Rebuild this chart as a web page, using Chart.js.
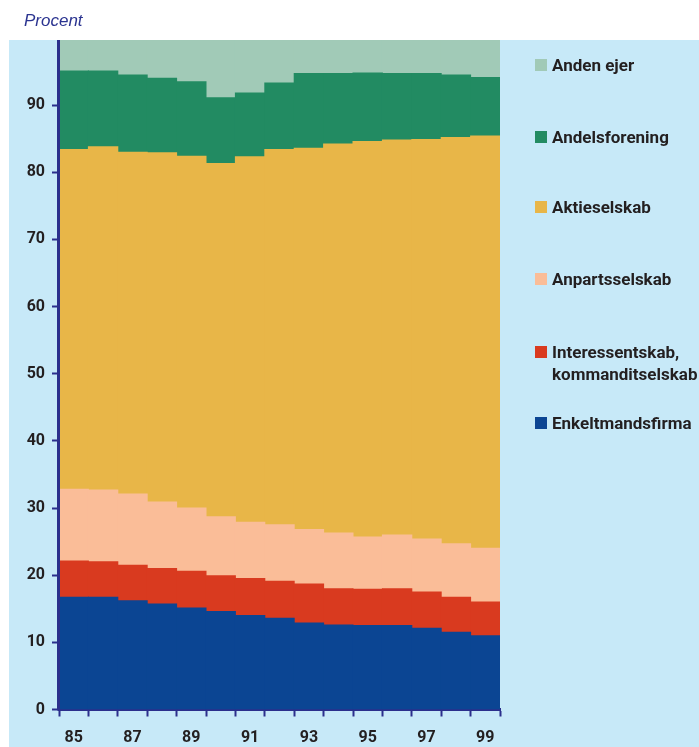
<!DOCTYPE html>
<html>
<head>
<meta charset="utf-8">
<script src="https://cdn.jsdelivr.net/npm/chart.js@4/dist/chart.umd.min.js"></script>
<style>
  html, body { margin: 0; padding: 0; background: #ffffff; }
  #wrap { position: relative; width: 699px; height: 747px; overflow: hidden; }
  #chart { position: absolute; left: 0; top: 0; }
  #unit {
    position: absolute; left: 24px; top: 11px;
    font-family: "Liberation Sans", Arial, sans-serif; font-style: italic;
    font-size: 17px; color: #2b3490; white-space: nowrap;
  }
  .lg { position: absolute; left: 535px; font-family: Roboto, "Noto Sans", sans-serif;
        font-weight: bold; font-size: 17px; line-height: 22px; color: #231f20; white-space: nowrap; }
  .lg .sw { position: absolute; left: 0; width: 12px; height: 12px; }
  .lg .tx { position: absolute; left: 17px; }
</style>
</head>
<body>
<div id="wrap">
  <canvas id="chart" width="699" height="747"></canvas>
  <div id="unit">Procent</div>
  <div id="legend"></div>
</div>
<script>
// Years (category axis) — only odd years get a printed label
const years = ['85','86','87','88','89','90','91','92','93','94','95','96','97','98','99'];

// Ownership shares in percent, per year
const enkeltmandsfirma = [16.7, 16.7, 16.2, 15.7, 15.1, 14.6, 14.0, 13.6, 12.9, 12.6, 12.5, 12.5, 12.1, 11.5, 11.0];
const interessentskab  = [5.4, 5.3, 5.3, 5.3, 5.5, 5.3, 5.5, 5.5, 5.8, 5.4, 5.4, 5.5, 5.4, 5.2, 5.0];
const anpartsselskab   = [10.7, 10.7, 10.6, 9.9, 9.4, 8.8, 8.4, 8.4, 8.1, 8.3, 7.8, 8.0, 7.9, 8.0, 8.0];
const aktieselskab     = [50.6, 51.1, 50.9, 52.0, 52.4, 52.6, 54.4, 55.9, 56.8, 57.9, 58.9, 58.8, 59.5, 60.5, 61.4];
const andelsforening   = [11.7, 11.3, 11.5, 11.1, 11.1, 9.8, 9.5, 9.9, 11.1, 10.5, 10.2, 9.9, 9.8, 9.3, 8.7];
const andenEjer        = [4.9, 4.9, 5.5, 6.0, 6.5, 8.9, 8.2, 6.7, 5.3, 5.3, 5.2, 5.3, 5.3, 5.5, 5.9];

// Value-axis ticks
const yTicks = [0, 10, 20, 30, 40, 50, 60, 70, 80, 90];

const INK = '#231f20';
const AXIS = '#2b2f8c';
const PANEL = '#c7e9f8';
const TICK_FONT = { family: 'Roboto, "Noto Sans", sans-serif', weight: 'bold', size: 16 };

// Stack order: bottom first
const series = [
  { label: ['Enkeltmandsfirma'], data: enkeltmandsfirma, color: '#0b4593' },
  { label: ['Interessentskab,', 'kommanditselskab'], data: interessentskab, color: '#d93a1f' },
  { label: ['Anpartsselskab'], data: anpartsselskab, color: '#fabd98' },
  { label: ['Aktieselskab'], data: aktieselskab, color: '#e8b648' },
  { label: ['Andelsforening'], data: andelsforening, color: '#228b62' },
  { label: ['Anden ejer'], data: andenEjer, color: '#a1cab7' }
];

// Light-blue panel behind the plot, white strip across the top,
// and a heavier value-axis line on top of the bars
const panelPlugin = {
  id: 'panel',
  beforeDraw(chart) {
    const ctx = chart.ctx;
    ctx.save();
    ctx.fillStyle = '#ffffff';
    ctx.fillRect(0, 0, chart.width, chart.height);
    ctx.fillStyle = PANEL;
    ctx.fillRect(9, 40, chart.width - 9, chart.height - 40);
    ctx.restore();
  },
  afterDraw(chart) {
    const ctx = chart.ctx;
    const a = chart.chartArea;
    ctx.save();
    ctx.fillStyle = '#ffffff';
    ctx.fillRect(0, 0, chart.width, 40);
    ctx.strokeStyle = AXIS;
    ctx.lineWidth = 3;
    ctx.beginPath();
    ctx.moveTo(a.left - 0.5, 40);
    ctx.lineTo(a.left - 0.5, a.bottom + 1);
    ctx.stroke();
    ctx.restore();
  }
};

const chart = new Chart(document.getElementById('chart'), {
  type: 'bar',
  data: {
    labels: years,
    datasets: series.map(s => ({
      label: s.label.join(' '),
      data: s.data,
      backgroundColor: s.color,
      borderWidth: 0,
      inflateAmount: 0.5,
      barPercentage: 1,
      categoryPercentage: 1
    }))
  },
  options: {
    responsive: false,
    animation: false,
    devicePixelRatio: 1,
    layout: { padding: { left: 0, top: 38, right: 199, bottom: 0 } },
    plugins: { legend: { display: false }, tooltip: { enabled: false }, title: { display: false } },
    scales: {
      x: {
        stacked: true,
        offset: true,
        z: 1,
        afterFit(scale) { scale.height = 37.5; },
        grid: {
          offset: true, drawOnChartArea: false, drawTicks: true,
          tickLength: 7, tickWidth: 2, tickColor: AXIS
        },
        border: { display: true, color: AXIS, width: 3 },
        ticks: {
          autoSkip: false, maxRotation: 0, padding: 12,
          color: INK, font: TICK_FONT,
          callback(v, i) { return i % 2 === 0 ? years[i] : ''; }
        }
      },
      y: {
        stacked: true,
        min: 0, max: 100,
        z: 1,
        afterFit(scale) { scale.width = 59; },
        afterBuildTicks(scale) { scale.ticks = yTicks.map(v => ({ value: v })); },
        grid: {
          drawOnChartArea: false, drawTicks: true,
          tickLength: 7, tickWidth: 2, tickColor: AXIS
        },
        border: { display: true, color: AXIS, width: 3 },
        ticks: { padding: 7, color: INK, font: TICK_FONT }
      }
    }
  },
  plugins: [panelPlugin]
});

// Legend, top entry first, built from the series definitions
const legendTops = { 'Anden ejer': 65, 'Andelsforening': 137, 'Aktieselskab': 207, 'Anpartsselskab': 279, 'Interessentskab,': 352, 'Enkeltmandsfirma': 423 };
const legend = document.getElementById('legend');
series.slice().reverse().forEach(s => {
  const cy = legendTops[s.label[0]];
  const item = document.createElement('div');
  item.className = 'lg';
  item.style.top = (cy - 11) + 'px';
  const sw = document.createElement('div');
  sw.className = 'sw';
  sw.style.top = '5px';
  sw.style.background = s.color;
  const tx = document.createElement('div');
  tx.className = 'tx';
  tx.innerHTML = s.label.join('<br>');
  item.appendChild(sw);
  item.appendChild(tx);
  legend.appendChild(item);
});
</script>
</body>
</html>
